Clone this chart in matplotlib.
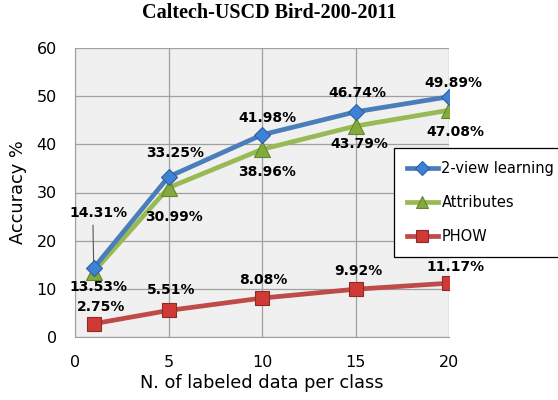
import matplotlib
matplotlib.use("Agg")
import matplotlib.pyplot as plt

x = [1, 5, 10, 15, 20]
two_view = [14.31, 33.25, 41.98, 46.74, 49.89]
attributes = [13.53, 30.99, 38.96, 43.79, 47.08]
phow = [2.75, 5.51, 8.08, 9.92, 11.17]
series_names = ["2-view learning", "Attributes", "PHOW"]
title = "Caltech-USCD Bird-200-2011"
xlabel = "N. of labeled data per class"
ylabel = "Accuracy %"

plt.rcParams['font.family'] = ['DejaVu Sans']

fig = plt.figure(figsize=(5.58, 4.0), dpi=100)
ax = fig.add_axes([75 / 558, 1 - 337 / 400, (449 - 75) / 558, (337 - 48) / 400])
ax.set_facecolor('#f0f0f0')

blue = '#4a7ebb'
green = '#98b954'
red = '#be4b48'

ax.plot(x, two_view, color=blue, lw=3.4, marker='D', ms=8.5, mfc='#3d82d6',
        mec='#2f5f9e', mew=0.8, label=series_names[0], zorder=5)
ax.plot(x, attributes, color=green, lw=3.4, marker='^', ms=11, mfc='#82aa3c',
        mec='#66862e', mew=0.8, label=series_names[1], zorder=4)
ax.plot(x, phow, color=red, lw=3.4, marker='s', ms=10.5, mfc='#d03a34',
        mec='#8e2a27', mew=0.8, label=series_names[2], zorder=4)

ax.set_xlim(0, 20)
ax.set_ylim(0, 60)
ax.set_xticks([0, 5, 10, 15, 20])
ax.set_yticks(range(0, 61, 10))
ax.grid(True, color='#a0a0a0', lw=0.9)
ax.set_axisbelow(True)
for s in ['top', 'right']:
    ax.spines[s].set_visible(False)
for s in ['left', 'bottom']:
    ax.spines[s].set_color('#a0a0a0')
ax.tick_params(axis='x', length=0, labelsize=11.5, pad=13)
ax.tick_params(axis='y', length=0, labelsize=11.5, pad=13)
ax.set_xlabel(xlabel, fontsize=12.8, labelpad=3)
ax.set_ylabel(ylabel, fontsize=12.8, labelpad=7)
fig.text(269 / 558, 1 - 13 / 400, title, ha='center', va='center', fontsize=14.5,
         fontweight='bold', family=['Liberation Serif'])

lab_kw = dict(fontsize=10, fontweight='bold', ha='center', va='center',
              textcoords='offset points', zorder=6)
# 2-view labels (above)
off_tv = [(3.6, 40), (5, 17), (3.6, 12), (1.4, 13.5), (3, 10)]
for i, (xi, yi) in enumerate(zip(x, two_view)):
    if i == 0:
        ax.annotate(f"{yi:.2f}%", (xi, yi), xytext=off_tv[i],
                    arrowprops=dict(arrowstyle='-', color='#555555', lw=0.8,
                                    shrinkA=2, shrinkB=5, relpos=(0.4, 0)),
                    **lab_kw)
    else:
        ax.annotate(f"{yi:.2f}%", (xi, yi), xytext=off_tv[i], **lab_kw)
# Attributes labels (below)
off_at = [(3.6, -11), (4.3, -21), (3.6, -16), (3, -13), (4.3, -16)]
for xi, yi, o in zip(x, attributes, off_at):
    ax.annotate(f"{yi:.2f}%", (xi, yi), xytext=o, **lab_kw)
# PHOW labels (above)
off_ph = [(5, 12), (2, 15), (0.7, 13), (2, 13), (5, 11.5)]
for xi, yi, o in zip(x, phow, off_ph):
    ax.annotate(f"{yi:.2f}%", (xi, yi), xytext=o, **lab_kw)

leg = ax.legend(loc='upper left', bbox_to_anchor=(394 / 558, 1 - 148 / 400),
                bbox_transform=fig.transFigure, fontsize=10.5, frameon=True,
                fancybox=False, edgecolor='black', framealpha=1,
                handlelength=2.1, handletextpad=0.25, labelspacing=1.3,
                borderpad=0.9, borderaxespad=0, markerscale=0.85)
leg.get_frame().set_linewidth(0.9)
leg.set_zorder(10)

fig.savefig("out.png", dpi=100)
